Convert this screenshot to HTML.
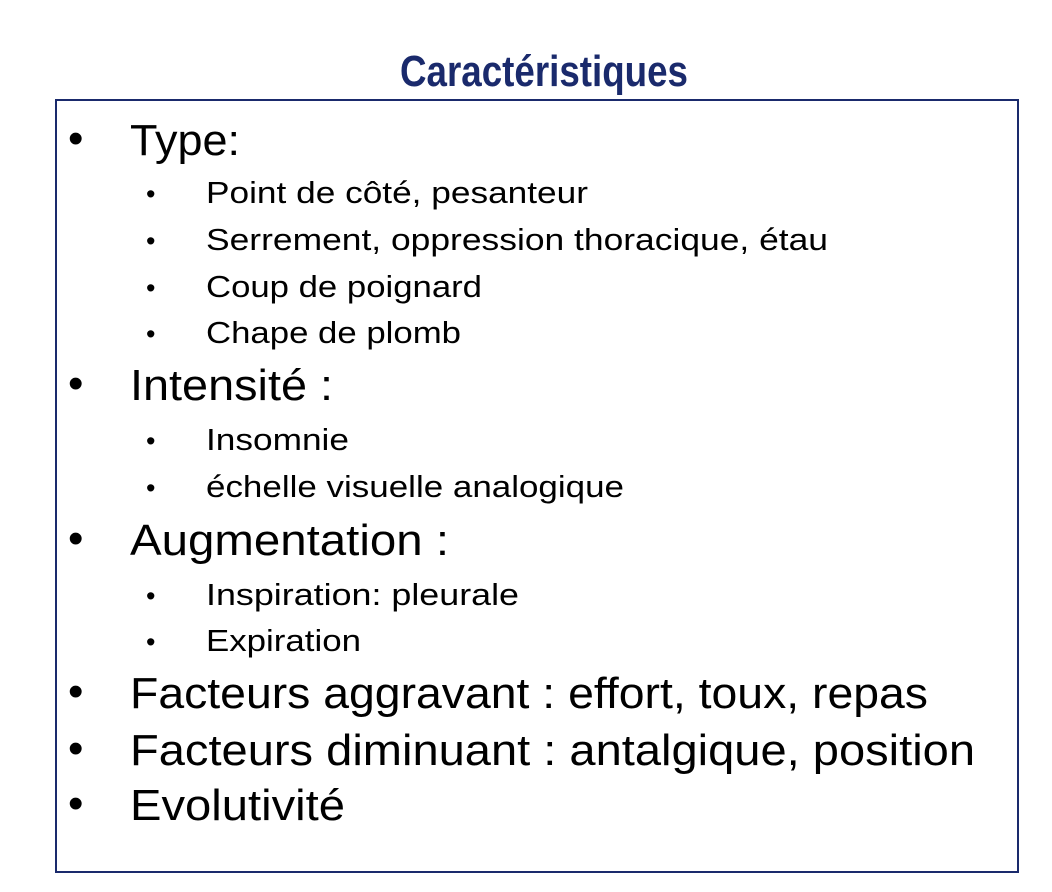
<!DOCTYPE html>
<html><head><meta charset="utf-8"><style>
html,body{margin:0;padding:0;background:#fff;}
svg{display:block;}
text{font-family:"Liberation Sans",sans-serif;fill:#000;}
</style></head><body>
<svg width="1052" height="892" viewBox="0 0 1052 892">
<text x="400" y="86" font-size="44" font-weight="bold" style="fill:#1a2a6c" textLength="288" lengthAdjust="spacingAndGlyphs">Caractéristiques</text>
<rect x="56" y="100" width="962" height="772" fill="none" stroke="#1a2a6c" stroke-width="2"/>
<g font-size="44">
<text x="68" y="153">•</text>
<text x="130" y="155" textLength="110" lengthAdjust="spacingAndGlyphs">Type:</text>
<text x="68" y="398">•</text>
<text x="130" y="400" textLength="203" lengthAdjust="spacingAndGlyphs">Intensité :</text>
<text x="68" y="553">•</text>
<text x="130" y="555" textLength="319" lengthAdjust="spacingAndGlyphs">Augmentation :</text>
<text x="68" y="706">•</text>
<text x="130" y="708" textLength="798" lengthAdjust="spacingAndGlyphs">Facteurs aggravant : effort, toux, repas</text>
<text x="68" y="763">•</text>
<text x="130" y="765" textLength="845" lengthAdjust="spacingAndGlyphs">Facteurs diminuant : antalgique, position</text>
<text x="68" y="818">•</text>
<text x="130" y="820" textLength="215" lengthAdjust="spacingAndGlyphs">Evolutivité</text>
</g>
<g font-size="31">
<text x="146" y="203" font-size="27">•</text>
<text x="206" y="203" textLength="382" lengthAdjust="spacingAndGlyphs">Point de côté, pesanteur</text>
<text x="146" y="250" font-size="27">•</text>
<text x="206" y="250" textLength="622" lengthAdjust="spacingAndGlyphs">Serrement, oppression thoracique, étau</text>
<text x="146" y="297" font-size="27">•</text>
<text x="206" y="297" textLength="276" lengthAdjust="spacingAndGlyphs">Coup de poignard</text>
<text x="146" y="343" font-size="27">•</text>
<text x="206" y="343" textLength="255" lengthAdjust="spacingAndGlyphs">Chape de plomb</text>
<text x="146" y="450" font-size="27">•</text>
<text x="206" y="450" textLength="143" lengthAdjust="spacingAndGlyphs">Insomnie</text>
<text x="146" y="497" font-size="27">•</text>
<text x="206" y="497" textLength="418" lengthAdjust="spacingAndGlyphs">échelle visuelle analogique</text>
<text x="146" y="605" font-size="27">•</text>
<text x="206" y="605" textLength="313" lengthAdjust="spacingAndGlyphs">Inspiration: pleurale</text>
<text x="146" y="651" font-size="27">•</text>
<text x="206" y="651" textLength="155" lengthAdjust="spacingAndGlyphs">Expiration</text>
</g>
</svg>
</body></html>
